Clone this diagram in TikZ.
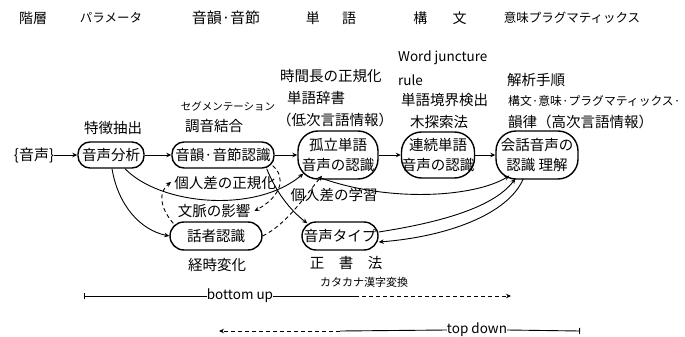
\documentclass[tikz,border=0pt]{standalone}
\usepackage{fontspec}
\setmainfont{Noto Sans CJK JP}
\usetikzlibrary{arrows.meta}
\begin{document}
\begin{tikzpicture}[x=1pt,y=1pt,
  box/.style={draw, line width=1.4pt, rounded corners=12pt, inner sep=0pt, align=center,
    font=\fontsize{14.5}{19.5}\selectfont},
  tall/.style={box, minimum height=48pt, rounded corners=20pt},
  lowbox/.style={box, minimum height=28pt, rounded corners=14pt},
  lbl/.style={inner sep=0pt, font=\fontsize{14.5}{17}\selectfont},
  sml/.style={inner sep=0pt, font=\fontsize{10.5}{12}\selectfont},
  hdr/.style={inner sep=0pt, font=\fontsize{14}{16}\selectfont},
  lat/.style={inner sep=0pt, font=\fontsize{13.5}{15}\selectfont},
  con/.style={line width=0.9pt},
  arr/.style={con, -{Stealth[length=5pt,width=4.5pt]}},
  darr/.style={arr, dash pattern=on 4pt off 3pt},
  dline/.style={con, dash pattern=on 5pt off 4pt}]
\useasboundingbox (0,0) rectangle (685,-337);
% header
\node[hdr] (h1) at (33,-18) {階層};
\node[hdr, font=\fontsize{12.5}{15}\selectfont] (h2) at (111,-18) {パラメータ};
\node[hdr, font=\fontsize{15}{16}\selectfont] (h3) at (226,-18) {音韻·音節};
\node[hdr] (h4) at (331,-18) {単\hspace{1.6em}語};
\node[hdr] (h5) at (440,-18) {構\hspace{1.8em}文};
\node[hdr, font=\fontsize{12.5}{15}\selectfont] (h6) at (572,-18) {意味プラグマティックス};
% main nodes
\node[lbl, font=\fontsize{15}{17}\selectfont] (s) at (34,-155) {\{音声\}};
\node[box, minimum width=66pt, minimum height=26pt] (a) at (111,-155) {音声分析};
\node[box, minimum width=102pt, minimum height=26pt] (b) at (223,-155) {音韻·音節認識};
\node[tall, minimum width=80pt] (c) at (338,-155) {孤立単語\\音声の認識};
\node[tall, minimum width=73pt, minimum height=46pt] (d) at (438,-155) {連続単語\\音声の認識};
\node[tall, minimum width=82pt] (e) at (537,-155) {会話音声の\\認識 理解};
\node[lowbox, minimum width=92pt] (f) at (216,-236) {話者認識};
\node[lowbox, minimum width=76pt] (g) at (340,-236) {音声タイプ};
% upper labels
\node[lbl] (l1) at (113,-128) {特徴抽出};
\node[sml] (l2) at (228,-106) {セグメンテーション};
\node[lbl] (l3) at (214,-126) {調音結合};
\node[lbl, anchor=west] (l4) at (280,-76) {時間長の正規化};
\node[lbl, anchor=west] (l5) at (287,-98) {単語辞書};
\node[lbl, anchor=west] (l6) at (277,-120) {（低次言語情報）};
\node[lat, anchor=west] (l7) at (398,-58) {Word juncture};
\node[lat, anchor=west] (l8) at (398,-80) {rule};
\node[lbl, anchor=west] (l9) at (401,-100) {単語境界検出};
\node[lbl, anchor=west] (l10) at (410,-122) {木探索法};
\node[lbl, anchor=west] (l11) at (507,-80) {解析手順};
\node[lbl, anchor=west, font=\fontsize{11.8}{15}\selectfont] (l12) at (508,-101) {構文·意味·プラグマティックス·};
\node[lbl, anchor=west] (l13) at (508,-122) {韻律（高次言語情報）};
% middle labels
\node[lbl] (m1) at (225,-183) {個人差の正規化};
\node[lbl] (m2) at (214,-211) {文脈の影響};
\node[lbl] (m3) at (334,-195) {個人差の学習};
\node[lbl] (m4) at (217,-265) {経時変化};
\node[lbl] (m5) at (346,-263) {正\hspace{1em}書\hspace{1em}法};
\node[sml, font=\fontsize{11}{12}\selectfont] (m6) at (364,-282) {カタカナ漢字変換};
% horizontal chain
\draw[arr] (s) -- (a);
\draw[arr] (a) -- (b);
\draw[arr] (b) -- (c);
\draw[arr] (c) -- (d);
\draw[arr] (d) -- (e);
% solid curves
\draw[arr] ([xshift=1pt]a.south) .. controls (118,-205) and (140,-230) .. (f.west);
\draw[arr] ([xshift=14pt]a.south) .. controls (160,-205) and (255,-214) .. ([xshift=6pt,yshift=6pt]c.south west);
\draw[arr] ([xshift=-8pt]b.south east) .. controls (276,-192) and (290,-210) .. ([xshift=6pt,yshift=-2pt]g.north west);
\draw[arr] ([xshift=-18pt,yshift=2pt]c.south) .. controls (390,-203) and (475,-197) .. ([xshift=14pt,yshift=4pt]e.south west);
\draw[arr] ([yshift=4pt]g.east) .. controls (430,-224) and (492,-210) .. ([xshift=20pt,yshift=1pt]e.south west);
\draw[arr] ([xshift=28pt,yshift=1pt]e.south west) .. controls (508,-215) and (445,-237) .. ([yshift=-6pt]g.east);
% dashed
\draw[darr] ([xshift=-2pt,yshift=3pt]b.south east) .. controls (286,-177) and (282,-196) .. ([xshift=4pt]m2.east);
\draw[darr] ([xshift=4pt,yshift=-2pt]f.north west) .. controls (160,-208) and (158,-192) .. ([xshift=-3pt,yshift=1pt]m1.west);
\draw[darr] (f.east) .. controls (287,-224) and (305,-196) .. ([xshift=-16pt,yshift=4pt]c.south);
% bottom up / top down
\coordinate (bu0) at (84,-296);
\node[lat] (bu) at (240,-296) {bottom up};
\coordinate (bu1) at (355,-296);
\coordinate (bu2) at (511,-296);
\draw[con, {Bar[width=6pt]}-] (bu0) -- (bu.west);
\draw[con] (bu.east) -- (bu1);
\draw[darr] (bu1) -- (bu2);
\coordinate (td0) at (219,-331);
\coordinate (td1) at (340,-331);
\node[lat] (td) at (477,-330) {top down};
\coordinate (td2) at (580,-331);
\draw[darr] (td1) -- (td0);
\draw[con] (td1) -- (td.west);
\draw[con, -{Bar[width=6pt]}] (td.east) -- (td2);
\end{tikzpicture}
\end{document}
